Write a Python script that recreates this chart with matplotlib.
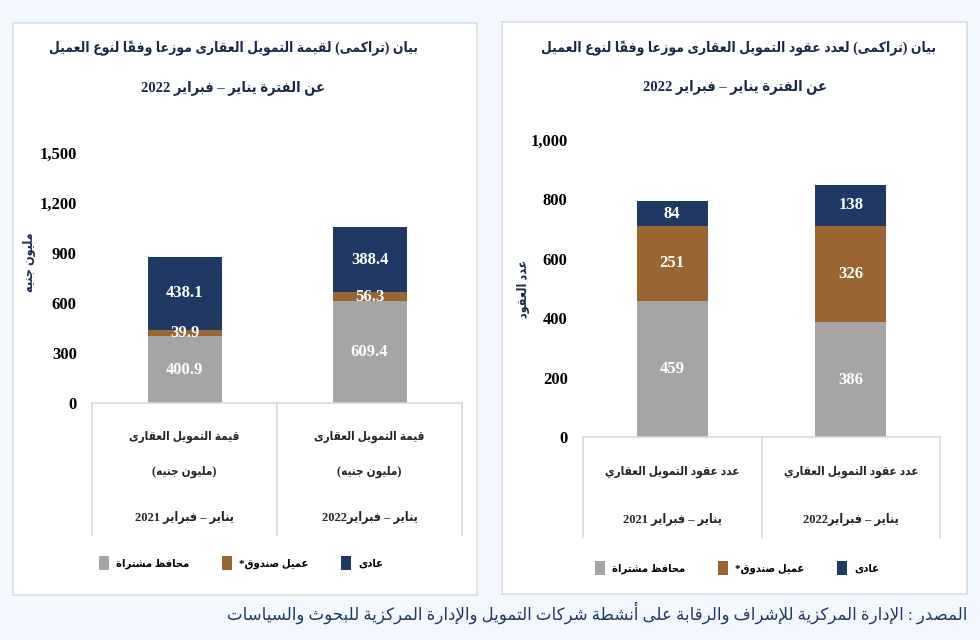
import matplotlib
matplotlib.use('Agg')
import matplotlib.pyplot as plt
import numpy as np
from matplotlib.patches import Rectangle, Patch
from matplotlib.transforms import blended_transform_factory

# chart data
periods = ['يناير – فبراير 2021', 'يناير – فبراير2022']
series = ['محافظ مشتراة', 'عميل صندوق*', 'عادى']
value_purchased = [400.9, 609.4]
value_fund = [39.9, 56.3]
value_regular = [438.1, 388.4]
count_purchased = [459, 386]
count_fund = [251, 326]
count_regular = [84, 138]
value_ticks = [0, 300, 600, 900, 1200, 1500]
count_ticks = [0, 200, 400, 600, 800, 1000]

colors = ['#A5A5A5', '#996633', '#203864']
title_color = '#1b2a48'
line_color = '#D9D9D9'
FONT = ['Liberation Serif', 'DejaVu Sans']
W, H = 980, 640

# --- minimal arabic shaping (matplotlib has no bidi / joining support) ---
ORDER = 'ءآأؤإئابةتثجحخدذرزسشصضطظعغفقكلمنهوىي'
NFORMS = [1, 2, 2, 2, 2, 4, 2, 4, 2, 4, 4, 4, 4, 4, 2, 2, 2, 2, 4, 4, 4, 4, 4, 4,
          4, 4, 4, 4, 4, 4, 4, 4, 4, 2, 2, 4]
FORMS = {}
cp = 0xFE80
for ch, n in zip(ORDER, NFORMS):
    FORMS[ch] = [chr(cp + k) for k in range(n)]
    cp += n
LAM_ALEF = {'آ': 0xFEF5, 'أ': 0xFEF7, 'إ': 0xFEF9, 'ا': 0xFEFB}
MIRROR = {'(': ')', ')': '('}


def is_mark(c):
    return '\u064b' <= c <= '\u0652'


def shape(text):
    out = []
    i, n = 0, len(text)
    prev_joins = False
    while i < n:
        c = text[i]
        if c not in FORMS:
            out.append(c)
            prev_joins = False
            i += 1
            continue
        j = i + 1
        marks = ''
        while j < n and is_mark(text[j]):
            marks += text[j]
            j += 1
        nxt = text[j] if j < n else ''
        if c == 'ل' and nxt in LAM_ALEF:
            g = chr(LAM_ALEF[nxt] + (1 if prev_joins else 0)) + marks
            k = j + 1
            while k < n and is_mark(text[k]):
                g += text[k]
                k += 1
            out.append(g)
            prev_joins = False
            i = k
            continue
        forms = FORMS[c]
        joins_next = len(forms) == 4 and nxt in FORMS and len(FORMS[nxt]) > 1
        if len(forms) == 1:
            g = forms[0]
        elif prev_joins and joins_next:
            g = forms[3]
        elif prev_joins:
            g = forms[1]
        elif joins_next:
            g = forms[2]
        else:
            g = forms[0]
        out.append(g + marks)
        prev_joins = joins_next
        i = j
    return out


def ar(text):
    tokens = []
    for cl in shape(text):
        if cl[0] in '0123456789.,' and tokens and tokens[-1][0] in '0123456789.,':
            tokens[-1] += cl
        else:
            tokens.append(cl)
    return ''.join(MIRROR.get(t, t) for t in reversed(tokens))


def fx(x):
    return x / W


def fy(y):
    return 1 - y / H


fig = plt.figure(figsize=(9.8, 6.4), dpi=100, facecolor='#F2F8FD')

# white panels
for x0, y0, x1, y1 in [(13, 23, 477, 595), (502, 22, 967, 594)]:
    fig.add_artist(Rectangle((fx(x0), fy(y1)), fx(x1 - x0), (y1 - y0) / H,
                             transform=fig.transFigure, facecolor='white',
                             edgecolor='#DADDE0', lw=1.2, zorder=0))


def stacked(box, stacks, ticks, fmt, depth):
    x0, ytop, x1, yzero = box
    ax = fig.add_axes([fx(x0), fy(yzero), fx(x1 - x0), (yzero - ytop) / H])
    ax.set_facecolor('none')
    x = np.arange(len(periods))
    bottom = np.zeros(len(periods))
    for vals, color in zip(stacks, colors):
        bars = ax.bar(x, vals, 0.4, bottom=bottom, color=color, zorder=2)
        ax.bar_label(bars, labels=[fmt.format(v) for v in vals], label_type='center',
                     color='white', fontweight='bold', fontsize=12, family=FONT, zorder=3)
        bottom += np.array(vals)
    ax.set_xlim(-0.5, len(periods) - 0.5)
    ax.set_ylim(ticks[0], ticks[-1])
    ax.set_yticks(ticks)
    ax.set_yticklabels([f'{t:,}' for t in ticks], family=FONT, fontweight='bold', fontsize=12)
    ax.tick_params(axis='y', length=0, pad=11)
    ax.set_xticks([])
    for s in ax.spines.values():
        s.set_visible(False)
    # category "table" under the bars
    tr = blended_transform_factory(ax.transData, ax.transAxes)
    ax.plot([-0.5, len(periods) - 0.5], [0, 0], transform=tr, color=line_color, lw=1.2, clip_on=False)
    for xv in np.arange(len(periods) + 1) - 0.5:
        ax.plot([xv, xv], [0, -depth], transform=tr, color=line_color, lw=1.2, clip_on=False)
    return ax


def label(x, y, s, size, color=title_color, **kw):
    fig.text(x, y, ar(s), family=FONT, fontweight='bold', fontstretch='condensed',
             fontsize=size, color=color, ha='center', va='center', **kw)


def legend(cx, cy):
    handles = [Patch(facecolor=c) for c in colors]
    fig.legend(handles, [ar(s) for s in series], loc='center', ncol=3,
               bbox_to_anchor=(fx(cx), fy(cy)), frameon=False, handlelength=0.9,
               handleheight=1.6, handletextpad=0.6, columnspacing=3.0,
               prop={'family': FONT, 'weight': 'bold', 'size': 8, 'stretch': 'condensed'})


# ---- left: value of mortgage finance ----
axl = stacked((92, 153, 462, 403), [value_purchased, value_fund, value_regular],
              value_ticks, '{:.1f}', (535 - 403) / 250)
label(fx(233), fy(48), 'بيان (تراكمى) لقيمة التمويل العقارى موزعا وفقاً لنوع العميل', 10)
label(fx(233), fy(88), 'عن الفترة يناير – فبراير 2022', 10.5)
label(fx(30), fy(262), 'مليون جنيه', 9, rotation=90)
trl = blended_transform_factory(axl.transData, fig.transFigure)
for i, p in enumerate(periods):
    label(i, fy(437), 'قيمة التمويل العقارى', 8.5, color='#262626', transform=trl)
    label(i, fy(472), '(مليون جنيه)', 8.5, color='#262626', transform=trl)
    label(i, fy(518), p, 9, color='#262626', transform=trl)
legend(241, 563)

# ---- right: number of mortgage contracts ----
axr = stacked((583, 140, 940, 437), [count_purchased, count_fund, count_regular],
              count_ticks, '{:.0f}', (537 - 437) / 297)
label(fx(738), fy(48), 'بيان (تراكمى) لعدد عقود التمويل العقارى موزعا وفقاً لنوع العميل', 10)
label(fx(735), fy(87), 'عن الفترة يناير – فبراير 2022', 10.5)
label(fx(523), fy(289), 'عدد العقود', 9, rotation=90)
trr = blended_transform_factory(axr.transData, fig.transFigure)
for i, p in enumerate(periods):
    label(i, fy(472), 'عدد عقود التمويل العقاري', 8.5, color='#262626', transform=trr)
    label(i, fy(520), p, 9, color='#262626', transform=trr)
legend(737, 568)

fig.text(fx(967), fy(613),
         ar('المصدر : الإدارة المركزية للإشراف والرقابة على أنشطة شركات التمويل والإدارة المركزية للبحوث والسياسات'),
         family=FONT, fontsize=12, color='#1f3a66', ha='right', va='center')

fig.savefig('out.png', dpi=100, facecolor=fig.get_facecolor())
